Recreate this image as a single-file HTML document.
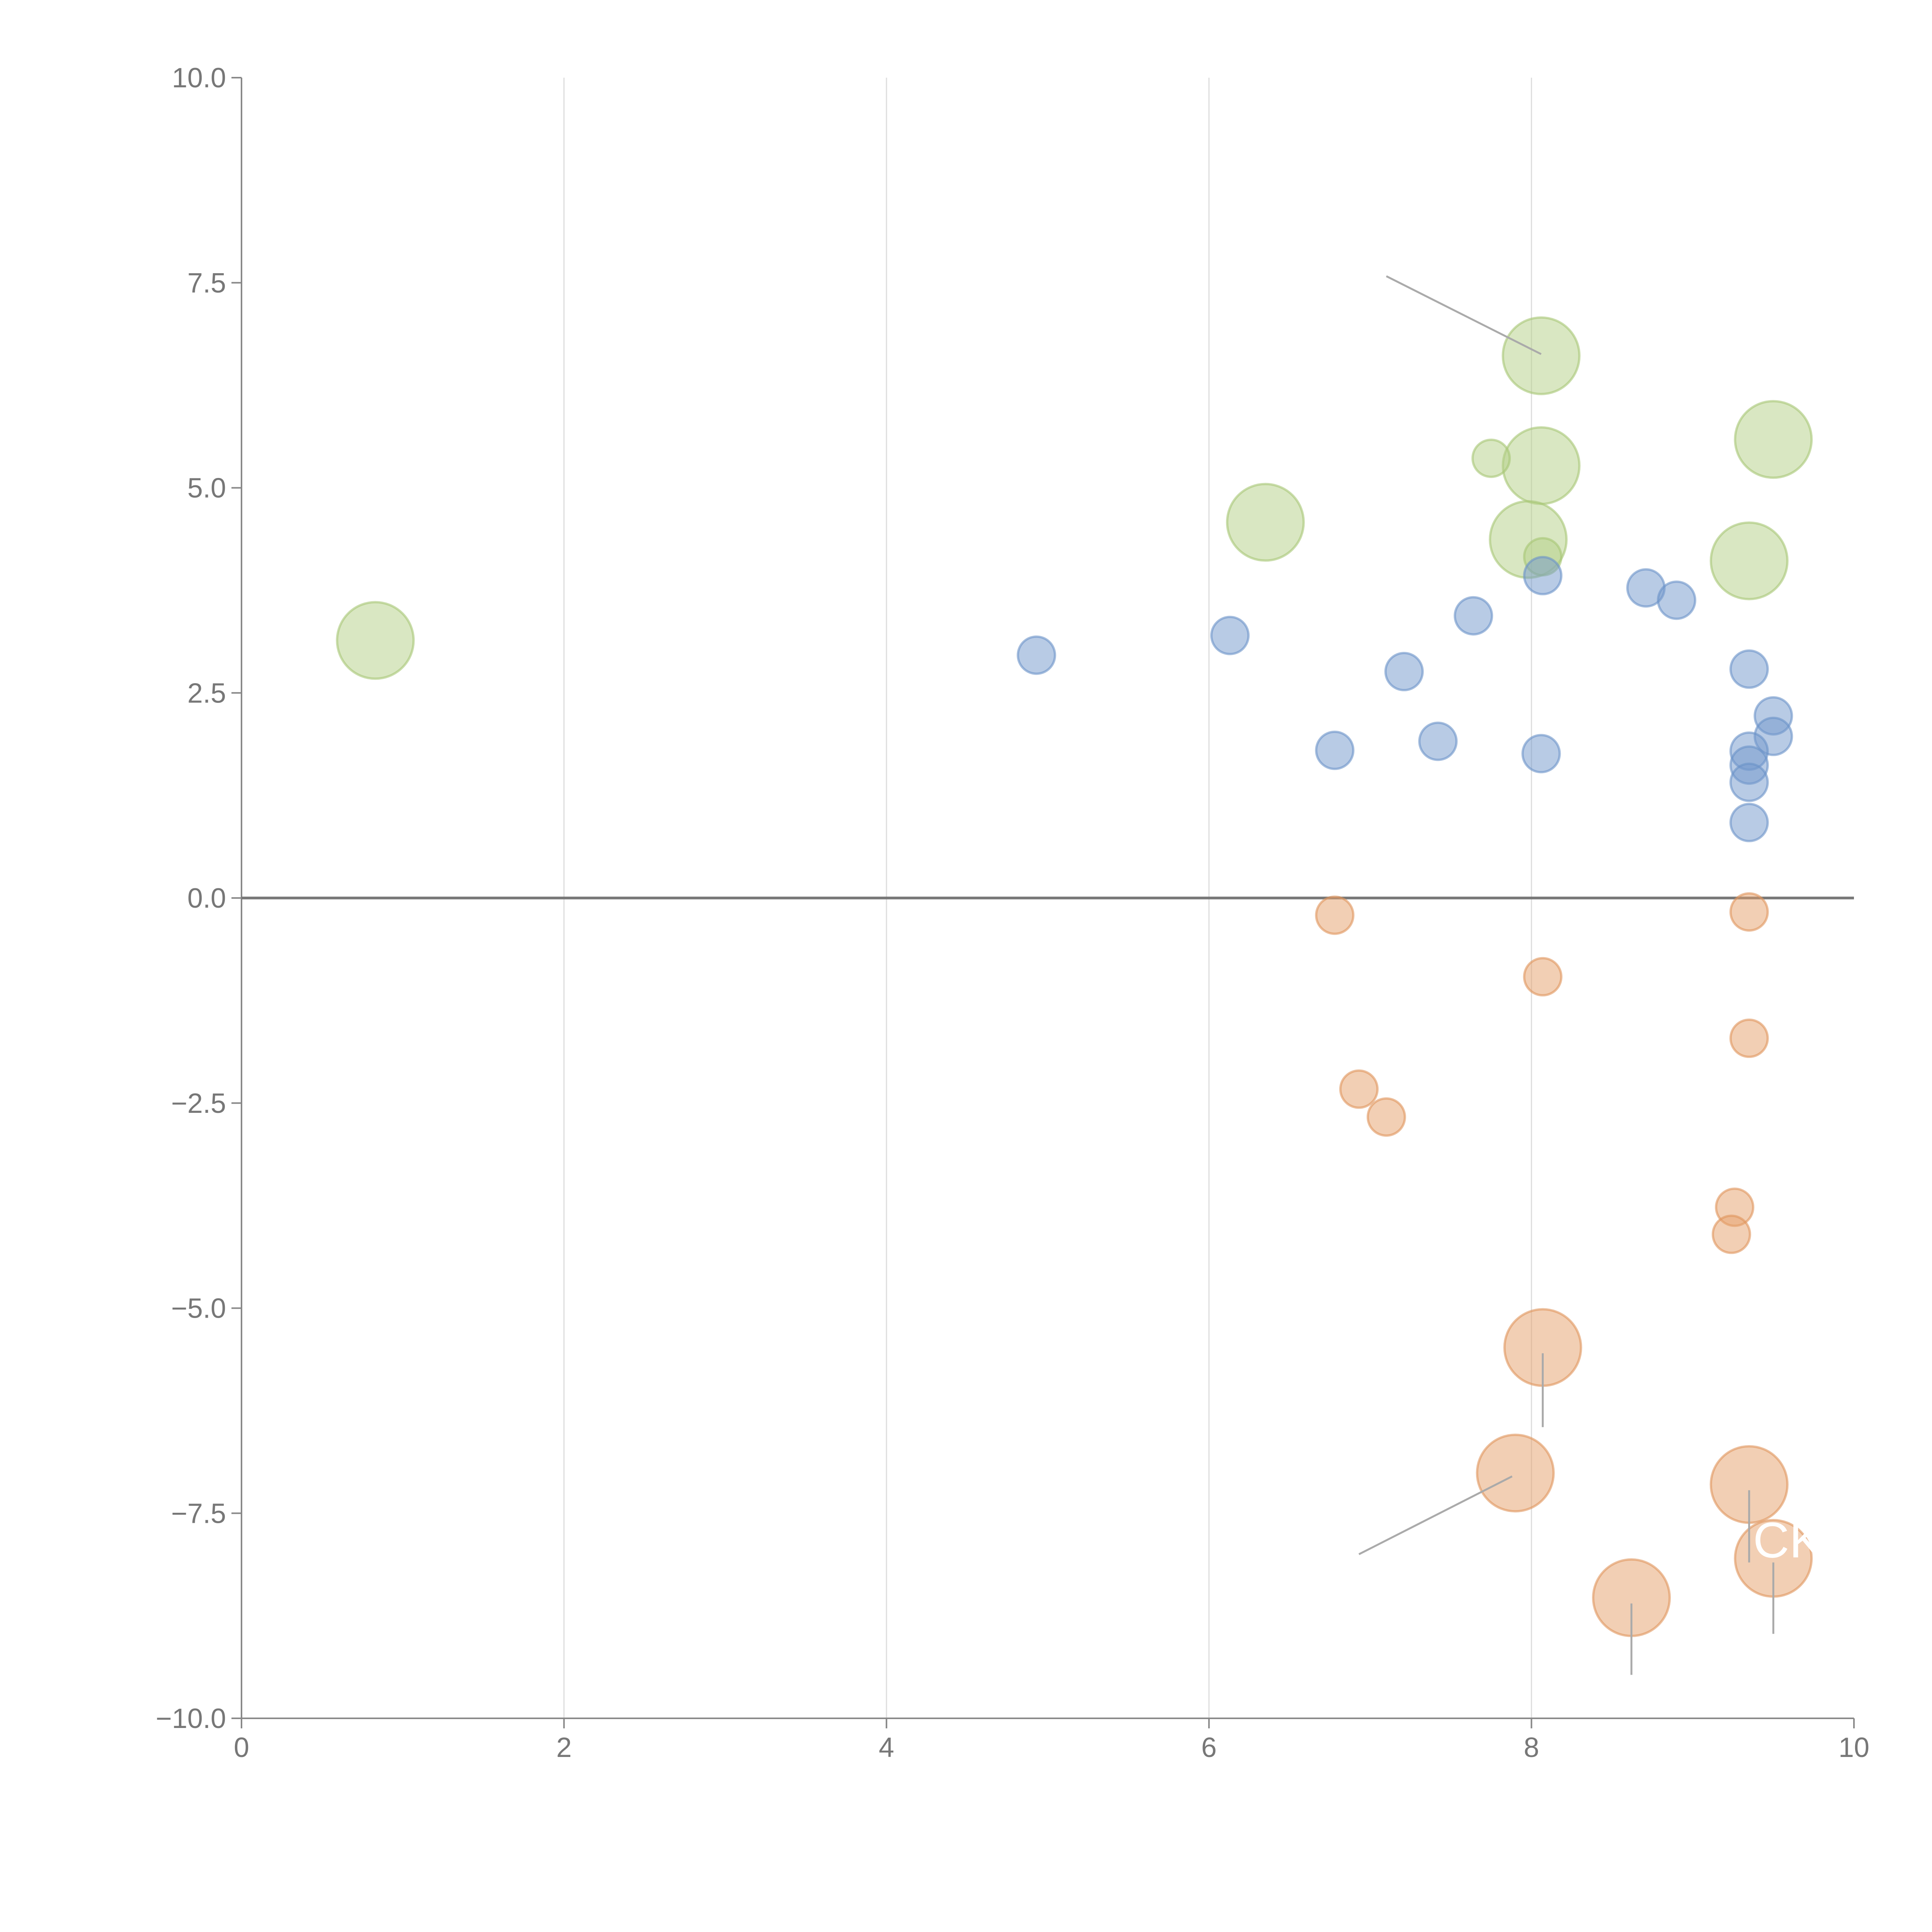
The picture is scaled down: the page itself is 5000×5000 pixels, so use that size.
<!DOCTYPE html>
<html><head><meta charset="utf-8">
<style>
html,body{margin:0;padding:0;background:#fff;}
svg{display:block;font-family:"Liberation Sans",sans-serif;}
</style></head>
<body>
<svg id="chart" width="5000" height="5000" viewBox="0 0 5000 5000" xmlns="http://www.w3.org/2000/svg"></svg>
<script>
const xTicks = [0, 2, 4, 6, 8, 10];
const yTicks = [-10, -7.5, -5, -2.5, 0, 2.5, 5, 7.5, 10];
const yTickLabels = ["\u221210.0","\u22127.5","\u22125.0","\u22122.5","0.0","2.5","5.0","7.5","10.0"];

const blueX = [4.93,6.13,6.78,7.21,7.42,7.64,8.06,8.07,8.71,8.90,9.35,9.50,9.50,9.35,9.35,9.35,9.35];
const blueY = [2.96,3.20,1.80,2.76,1.91,3.44,1.76,3.93,3.78,3.63,2.79,2.22,1.97,1.79,1.62,1.41,0.92];
const blueS = [1,1,1,1,1,1,1,1,1,1,1,1,1,1,1,1,1];

const orangeX = [6.78,9.35,8.07,9.35,6.93,7.10,9.26,9.24,8.07,7.90,9.35,9.50,8.62];
const orangeY = [-0.21,-0.17,-0.96,-1.71,-2.33,-2.67,-3.77,-4.10,-5.48,-7.01,-7.15,-8.05,-8.53];
const orangeS = [1,1,1,1,1,1,1,1,2,2,2,2,2];

const greenX = [0.83,6.35,8.06,8.06,7.98,9.50,9.35,7.75,8.07];
const greenY = [3.14,4.58,6.61,5.27,4.37,5.59,4.11,5.36,4.16];
const greenS = [2,2,2,2,2,2,2,1,1];

const X0=625, X1=4798, Y0=4447, Y1=201;
const sx = v => X0 + (v-0)/(10-0)*(X1-X0);
const sy = v => Y0 - (v-(-10))/(20)*(Y0-Y1);
const rad = s => s===2 ? 99 : 48;

const svg = document.getElementById('chart');
const NS = 'http://www.w3.org/2000/svg';
function mk(tag, attrs){ const e=document.createElementNS(NS,tag); for(const k in attrs) e.setAttribute(k,attrs[k]); svg.appendChild(e); return e; }

xTicks.forEach(t=>{
  if(t===0||t===10) return;
  const g = mk('line',{x1:sx(t),x2:sx(t),y1:Y1,y2:Y0,stroke:'#dddddd','stroke-width':3});
  
  
});
const ya = mk('line',{x1:X0,x2:X0,y1:Y1,y2:Y0,stroke:'#888','stroke-width':4});


const xa = mk('line',{x1:X0,x2:X1,y1:Y0,y2:Y0,stroke:'#888','stroke-width':4});


const zl = mk('line',{x1:X0,x2:X1,y1:sy(0),y2:sy(0),stroke:'#777','stroke-width':7});



xTicks.forEach(t=>{
  const tk = mk('line',{x1:sx(t),x2:sx(t),y1:Y0,y2:Y0+26,stroke:'#888','stroke-width':4});
  
  
  const tx = mk('text',{x:sx(t),y:Y0+100,'text-anchor':'middle','font-size':72,fill:'#777'});
  tx.textContent = String(t);
  
  
});
yTicks.forEach((t,i)=>{
  const tk = mk('line',{x1:X0-26,x2:X0,y1:sy(t),y2:sy(t),stroke:'#888','stroke-width':4});
  
  
  const tx = mk('text',{x:X0-40,y:sy(t)+25,'text-anchor':'end','font-size':72,fill:'#777'});
  tx.textContent = yTickLabels[i];
  
  
});

const leaders = [[7.10,7.58,8.06,6.63],[6.93,-8.0,7.88,-7.05],[8.07,-5.55,8.07,-6.45],[9.35,-7.22,9.35,-8.1],[9.50,-8.1,9.50,-8.97],[8.62,-8.6,8.62,-9.47]];
function drawSeries(xs,ys,ss,fill,stroke,name){
  xs.forEach((v,i)=>{
    const c = mk('circle',{cx:sx(v),cy:sy(ys[i]),r:rad(ss[i]),fill:fill,'fill-opacity':0.5,stroke:stroke,'stroke-opacity':0.6,'stroke-width':6});
    
    
  });
}
drawSeries(greenX,greenY,greenS,'#b4cf86','#a6c775','green-bubble');
drawSeries(blueX,blueY,blueS,'#7198cc','#6a92c8','blue-bubble');
drawSeries(orangeX,orangeY,orangeS,'#e6a06a','#e0955c','orange-bubble');

leaders.forEach(l=>{
  const ln = mk('line',{x1:sx(l[0]),y1:sy(l[1]),x2:sx(l[2]),y2:sy(l[3]),stroke:'#aaaaaa','stroke-width':5});
  
  
});
const ck = mk('text',{x:sx(9.35)+10,y:sy(-7.85)+40,'font-size':130,fill:'#ffffff'});
ck.textContent='CK';


</script>
</body></html>
